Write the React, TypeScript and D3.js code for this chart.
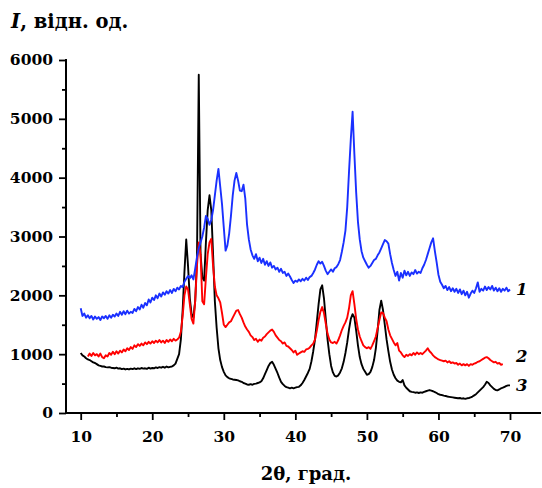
import React, { useEffect, useRef } from 'react';
import * as d3 from 'd3';

// XRD patterns, sampled every 0.25 deg from 10 to 70 (one row = one degree)
const ANGLE_START = 10;
const ANGLE_STEP = 0.25;

const curve1 = [
  1780, 1650, 1690, 1620, // 10
  1660, 1610, 1650, 1590,
  1640, 1600, 1630, 1580,
  1640, 1610, 1650, 1600,
  1660, 1620, 1670, 1640,
  1690, 1650, 1720, 1670, // 15
  1730, 1680, 1740, 1690,
  1720, 1700, 1770, 1730,
  1800, 1760, 1840, 1790,
  1870, 1830, 1930, 1880,
  1960, 1920, 2000, 1950, // 20
  2030, 1980, 2050, 2010,
  2070, 2030, 2090, 2040,
  2110, 2070, 2130, 2100,
  2160, 2140, 2230, 2280,
  2330, 2290, 2340, 2270, // 25
  2450, 2650, 2800, 2900,
  3000, 3150, 3350, 3300,
  3200, 3280, 3450, 3700,
  3950, 4150, 3850, 3550,
  3150, 2760, 2850, 3050, // 30
  3350, 3700, 3950, 4080,
  3950, 3780, 3770, 3880,
  3650, 3200, 2950, 2780,
  2680, 2620, 2700, 2580,
  2640, 2550, 2620, 2520, // 35
  2580, 2500, 2560, 2470,
  2500, 2440, 2470, 2400,
  2450, 2380, 2400, 2330,
  2370, 2320, 2260, 2210,
  2250, 2230, 2270, 2240, // 40
  2280, 2250, 2300, 2260,
  2310, 2330, 2380, 2440,
  2520, 2580, 2540, 2570,
  2500, 2420, 2360, 2400,
  2440, 2400, 2460, 2480, // 45
  2530, 2600, 2740, 2900,
  3100, 3500, 4100, 4650,
  5120, 4400, 3750, 3250,
  2950, 2750, 2640, 2580,
  2520, 2470, 2500, 2550, // 50
  2600, 2620, 2680, 2730,
  2800, 2870, 2940, 2920,
  2880, 2700, 2550, 2430,
  2330, 2400, 2250, 2380,
  2300, 2420, 2340, 2400, // 55
  2330, 2390, 2360, 2430,
  2370, 2400, 2380, 2460,
  2520, 2600, 2700, 2800,
  2900, 2970, 2750, 2560,
  2350, 2230, 2180, 2120, // 60
  2160, 2090, 2140, 2070,
  2120, 2060, 2110, 2040,
  2100, 2020, 2080, 2000,
  2060, 1960, 2030, 2080,
  2040, 2120, 2220, 2060, // 65
  2110, 2080, 2150, 2090,
  2140, 2100, 2160, 2080,
  2130, 2070, 2120, 2060,
  2110, 2080, 2130, 2070,
  2100, // 70
];

const curve2 = [
  null, null, null, null, // 10
  960, 1010, 970, 1020,
  980, 1000, 960, 1010,
  950, 930, 980, 960,
  1020, 990, 1040, 1000,
  1050, 1010, 1060, 1030, // 15
  1080, 1050, 1100, 1070,
  1120, 1090, 1150, 1120,
  1170, 1140, 1180, 1150,
  1200, 1170, 1210, 1180,
  1220, 1190, 1230, 1200, // 20
  1240, 1200, 1230, 1190,
  1240, 1210, 1250, 1220,
  1260, 1230, 1250, 1280,
  1380, 1650, 2000, 2150,
  2100, 1850, 1600, 1520, // 25
  1900, 2500, 2900, 2700,
  1900, 1850, 2300, 2700,
  2900, 2960, 2500, 2150,
  2000, 1950, 1880, 1700,
  1500, 1460, 1500, 1540, // 30
  1560, 1620, 1680, 1740,
  1750, 1680, 1620, 1540,
  1470, 1420, 1380, 1320,
  1290, 1240, 1260, 1210,
  1250, 1230, 1280, 1300, // 35
  1340, 1370, 1400, 1420,
  1380, 1320, 1280, 1240,
  1220, 1180, 1200, 1140,
  1130, 1100, 1070, 1030,
  1060, 990, 1010, 1030, // 40
  1050, 1040, 1080, 1090,
  1110, 1150, 1180, 1250,
  1400, 1580, 1720, 1800,
  1700, 1520, 1350, 1250,
  1200, 1190, 1210, 1180, // 45
  1240, 1320, 1410, 1480,
  1540, 1620, 1780, 2000,
  2070, 1850, 1600, 1420,
  1300, 1220, 1150, 1120,
  1100, 1120, 1090, 1150, // 50
  1220, 1300, 1440, 1580,
  1710, 1700, 1620, 1560,
  1420, 1320, 1260, 1200,
  1150, 1190, 1060, 1030,
  980, 950, 990, 970, // 55
  1000, 980, 1020, 990,
  1030, 1000, 1020, 1000,
  1030, 1060, 1100, 1050,
  1020, 980, 950, 930,
  910, 900, 890, 880, // 60
  890, 860, 880, 850,
  860, 840, 850, 820,
  840, 810, 830, 810,
  830, 800, 830, 820,
  840, 850, 870, 880, // 65
  900, 920, 940, 950,
  930, 900, 880, 860,
  870, 840, 850, 820,
  830, null, null, null,
  null, // 70
];

const curve3 = [
  1020, 980, 960, 930, // 10
  910, 900, 880, 860,
  850, 830, 810, 800,
  790, 790, 780, 775,
  780, 770, 765, 760,
  770, 755, 760, 745, // 15
  755, 740, 750, 740,
  755, 745, 760, 745,
  760, 750, 765, 755,
  760, 750, 770, 755,
  765, 760, 775, 765, // 20
  780, 770, 785, 770,
  790, 775, 785, 790,
  810, 840, 920, 1000,
  1250, 1750, 2400, 2950,
  2500, 1950, 1680, 1620, // 25
  1900, 2600, 5750, 2700,
  2300, 2250, 2900, 3450,
  3700, 3450, 2700, 1900,
  1450, 1100, 900, 780,
  700, 640, 610, 590, // 30
  580, 570, 565, 560,
  555, 540, 530, 510,
  500, 485, 480, 490,
  480, 495, 500, 510,
  520, 540, 590, 660, // 35
  730, 800, 850, 870,
  820, 750, 680, 600,
  530, 490, 460, 440,
  430, 420, 430, 420,
  430, 440, 445, 470, // 40
  510, 560, 620, 680,
  750, 880, 1050, 1250,
  1550, 1850, 2100, 2170,
  1950, 1600, 1250, 1000,
  800, 690, 630, 620, // 45
  640, 690, 760, 870,
  1020, 1200, 1420, 1600,
  1680, 1620, 1400, 1150,
  950, 830, 750, 700,
  650, 660, 700, 780, // 50
  900, 1100, 1400, 1750,
  1910, 1750, 1500, 1250,
  1050, 870, 740, 650,
  590, 550, 530, 520,
  560, 470, 430, 400, // 55
  370, 360, 355, 345,
  350, 340, 350, 345,
  360, 370, 380, 390,
  380, 370, 355, 340,
  320, 310, 305, 295, // 60
  290, 280, 275, 270,
  265, 260, 255, 250,
  255, 245, 250, 240,
  250, 255, 265, 280,
  300, 320, 350, 380, // 65
  410, 440, 480, 530,
  510, 470, 440, 410,
  390, 385, 400, 420,
  430, 445, 460, 470,
  470, // 70
];

const xTicks = [10, 20, 30, 40, 50, 60, 70];
const xMinor = [15, 25, 35, 45, 55, 65];
const yTicks = [0, 1000, 2000, 3000, 4000, 5000, 6000];
const yMinor = [500, 1500, 2500, 3500, 4500, 5500];
const seriesNames = ['1', '2', '3'];
const seriesColors = ['#1a30ff', '#ff0000', '#000000'];
const labelValues = [2110, 960, 480];

const W = 542;
const H = 488;
const FONT = '"DejaVu Serif", "Liberation Serif", serif';

export default function App() {
  const svgRef = useRef<SVGSVGElement | null>(null);

  useEffect(() => {
    if (!svgRef.current) return;
    const svg = d3.select(svgRef.current);
    svg.selectAll('*').remove();

    const x = d3.scaleLinear().domain([10, 70]).range([80.7, 510]);
    const y = d3.scaleLinear().domain([0, 6000]).range([413, 60]);
    const axisX0 = 66;
    const axisX1 = 541;

    const angles = curve1.map((_, i) => ANGLE_START + i * ANGLE_STEP);
    const series = [curve1, curve2, curve3];

    const line = d3.line<[number, number | null]>()
      .defined(d => d[1] != null)
      .x(d => x(d[0]))
      .y(d => y(d[1] as number));

    // black first, blue on top
    [2, 1, 0].forEach(si => {
      const pts = angles.map((a, i) => [a, series[si][i]] as [number, number | null]);
      svg.append('path')
        .datum(pts)
        .attr('d', line)
        .attr('fill', 'none')
        .attr('stroke', seriesColors[si])
        .attr('stroke-width', 1.9)
        .attr('stroke-linejoin', 'round');
    });

    // axes
    const gx = svg.append('g').attr('transform', `translate(0,${y(0)})`);
    gx.call(d3.axisBottom(x).tickValues(xTicks).tickSize(7).tickPadding(11).tickFormat(d3.format('d')))
      .call(s => s.select('.domain').remove());
    gx.append('g').call(d3.axisBottom(x).tickValues(xMinor).tickSize(4).tickFormat(() => ''))
      .call(s => s.select('.domain').remove());
    gx.append('line')
      .attr('x1', axisX0).attr('x2', axisX1).attr('y1', 0).attr('y2', 0)
      .attr('stroke', '#000').attr('stroke-width', 2);

    const gy = svg.append('g').attr('transform', `translate(${axisX0},0)`);
    gy.call(d3.axisLeft(y).tickValues(yTicks).tickSize(7).tickPadding(6).tickFormat(d3.format('d')))
      .call(s => s.select('.domain').remove());
    gy.append('g').call(d3.axisLeft(y).tickValues(yMinor).tickSize(4).tickFormat(() => ''))
      .call(s => s.select('.domain').remove());
    gy.append('line')
      .attr('x1', 0).attr('x2', 0).attr('y1', y(0) + 1).attr('y2', y(6000) - 1)
      .attr('stroke', '#000').attr('stroke-width', 2);

    svg.selectAll('.tick line').attr('stroke', '#000').attr('stroke-width', 1.8);
    svg.selectAll('.tick text')
      .attr('fill', '#000')
      .attr('font-family', FONT)
      .attr('font-weight', 'bold')
      .attr('font-size', 15.5);

    // series numbers
    seriesNames.forEach((n, i) => {
      svg.append('text')
        .attr('x', x(70) + 6)
        .attr('y', y(labelValues[i]))
        .attr('dy', '0.35em')
        .attr('font-family', FONT)
        .attr('font-weight', 'bold')
        .attr('font-style', 'italic')
        .attr('font-size', 16.5)
        .attr('fill', '#000')
        .text(n);
    });

    // axis titles
    const title = svg.append('text')
      .attr('x', 11).attr('y', 28)
      .attr('font-family', FONT)
      .attr('font-weight', 'bold')
      .attr('font-size', 19.5)
      .attr('fill', '#000');
    title.append('tspan').attr('font-style', 'italic').text('I');
    title.append('tspan').text(', відн. од.');

    svg.append('text')
      .attr('x', 306).attr('y', 480)
      .attr('text-anchor', 'middle')
      .attr('font-family', FONT)
      .attr('font-weight', 'bold')
      .attr('font-size', 18)
      .attr('fill', '#000')
      .text('2θ, град.');
  }, []);

  return (
    <svg
      ref={svgRef}
      width={W}
      height={H}
      style={{ position: 'absolute', left: 0, top: 0, background: '#fff' }}
    />
  );
}
